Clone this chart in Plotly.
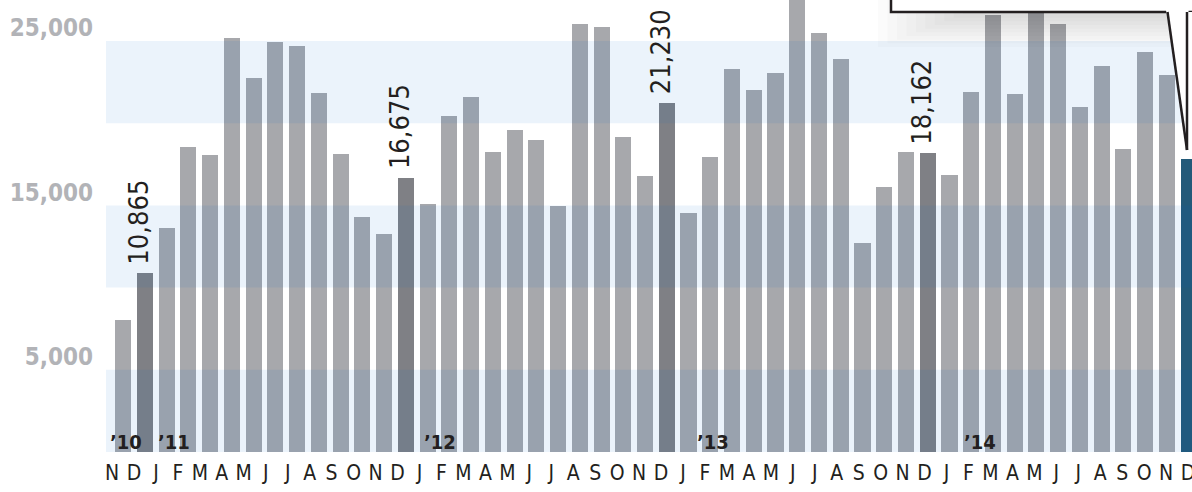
import plotly.graph_objects as go

# ---------------- data ----------------
MONTHS = ["N", "D",
          "J", "F", "M", "A", "M", "J", "J", "A", "S", "O", "N", "D",
          "J", "F", "M", "A", "M", "J", "J", "A", "S", "O", "N", "D",
          "J", "F", "M", "A", "M", "J", "J", "A", "S", "O", "N", "D",
          "J", "F", "M", "A", "M", "J", "J", "A", "S", "O", "N", "D"]
VALUES = [8030, 10865,
          13625, 18570, 18050, 25180, 22750, 24940, 24700, 21840, 18110, 14290, 13260, 16675,
          15085, 20440, 21590, 18230, 19590, 19000, 14960, 26010, 25830, 19140, 16810, 21230,
          14540, 17940, 23300, 22020, 23050, 28500, 25490, 23900, 12710, 16120, 18250, 18162,
          16850, 21900, 26580, 21780, 27000, 26030, 20985, 23480, 18430, 24330, 22930, 17820]
HIGHLIGHT_IDX = [1, 13, 25, 37]          # Decembers with labels
HIGHLIGHT_TXT = ["10,865", "16,675", "21,230", "18,162"]
CURRENT_IDX = 49
YEAR_TXT = ["’10", "’11", "’12", "’13", "’14"]
YEAR_IDX = [1, 2, 14, 26, 38]
Y_TICKS = [5000, 15000, 25000]
Y_TICKTEXT = ["5,000", "15,000", "25,000"]
BANDS = [(0, 5000), (10000, 15000), (20000, 25000)]

# ---------------- style ----------------
NARROW = "DejaVu Sans Condensed, Liberation Sans Narrow, sans-serif"
INK = "#231f20"
C_BAR = "#a7a8ac"
C_DARK = "#7f8085"
C_BLUE = "#235a79"

idx = list(range(len(VALUES)))
colors = [C_BAR] * len(VALUES)
for i in HIGHLIGHT_IDX:
    colors[i] = C_DARK
colors[CURRENT_IDX] = C_BLUE

W, H = 1192, 492
ML, MB = 106, 40
PW, PH = W - ML, H - MB
YMAX = 27494

def px(x):
    return (x - ML) / PW

def py(y):
    return (PH - y) / PH

fig = go.Figure()
fig.add_trace(go.Bar(x=idx, y=VALUES, marker=dict(color=colors, line=dict(width=0)),
                     width=0.736, hoverinfo="skip"))

shapes = []
for lo, hi in BANDS:
    shapes.append(dict(type="rect", xref="paper", yref="y", x0=0, x1=1, y0=lo, y1=hi,
                       fillcolor="rgba(0,105,205,0.08)", line=dict(width=0), layer="above"))

# drop shadow of callout box
N = 10
for k in range(N):
    t = k / (N - 1)
    shapes.append(dict(type="rect", xref="paper", yref="paper",
                       x0=px(878 + 85 * t), x1=px(1300), y0=py(-20), y1=py(47 - 33 * t),
                       fillcolor="rgba(0,0,0,0.017)", line=dict(width=0), layer="above"))
# callout box
shapes.append(dict(type="rect", xref="paper", yref="paper",
                   x0=px(891), x1=px(1300), y0=py(-60), y1=py(12),
                   fillcolor="white", line=dict(color=INK, width=2.5), layer="above"))
# white strip right of the pointer
shapes.append(dict(type="rect", xref="paper", yref="paper",
                   x0=px(1188), x1=px(1300), y0=py(150), y1=py(12),
                   fillcolor="white", line=dict(width=0), layer="above"))
# pointer
tri = "M {} {} L {} {} L {} {} Z".format(px(1166), py(10), px(1187), py(150), px(1188.5), py(10))
shapes.append(dict(type="path", xref="paper", yref="paper", path=tri,
                   fillcolor="white", line=dict(width=0), layer="above"))
shapes.append(dict(type="line", xref="paper", yref="paper", x0=px(1167.5), y0=py(12),
                   x1=px(1187), y1=py(150), line=dict(color=INK, width=2.5), layer="above"))
shapes.append(dict(type="line", xref="paper", yref="paper", x0=px(1187), y0=py(150),
                   x1=px(1187), y1=py(12), line=dict(color=INK, width=2.5), layer="above"))

annotations = []
for i, txt in zip(HIGHLIGHT_IDX, HIGHLIGHT_TXT):
    annotations.append(dict(x=i, y=VALUES[i], xref="x", yref="y", text=txt, textangle=-90,
                            showarrow=False, xanchor="center", yanchor="bottom",
                            xshift=-6, yshift=7,
                            font=dict(family=NARROW, size=27, color=INK)))

year_shift = [-1, -11, -6, 6, 13]
year_anchor = ["right", "left", "left", "left", "left"]
for txt, i, sh, an in zip(YEAR_TXT, YEAR_IDX, year_shift, year_anchor):
    annotations.append(dict(x=i, y=0, xref="x", yref="y", text="<b>" + txt + "</b>",
                            showarrow=False, xanchor=an, yanchor="bottom",
                            xshift=sh, yshift=-4,
                            font=dict(family=NARROW, size=20, color=INK)))

# month label positions (label row is set slightly wider than the bar row)
label_x = [-0.506 + i * 1.0097 for i in idx]

fig.update_layout(
    width=W, height=H, autosize=False,
    margin=dict(l=ML, r=0, t=0, b=MB, pad=0),
    paper_bgcolor="white", plot_bgcolor="white",
    showlegend=False, bargap=0,
    shapes=shapes, annotations=annotations,
    xaxis=dict(range=[-0.782, 49.15], tickmode="array", tickvals=label_x, ticktext=MONTHS,
               showgrid=False, zeroline=False, showline=False, ticks="", automargin=False,
               tickfont=dict(family=NARROW, size=21, color=INK),
               ticklabelstandoff=6, ticklabeloverflow="allow", fixedrange=True),
    yaxis=dict(range=[0, YMAX], tickmode="array", tickvals=Y_TICKS, ticktext=Y_TICKTEXT,
               showgrid=False, zeroline=False, showline=False, ticks="", automargin=False,
               tickfont=dict(family=NARROW, size=24, color="#b2b3b7", weight="bold"),
               ticklabelstandoff=12, ticklabelshift=-13, fixedrange=True),
)

fig.write_html("out.html", config={"displayModeBar": False},
               post_script="document.body.style.margin='0';"
                           "document.body.style.padding='0';"
                           "document.body.style.overflow='hidden';")
